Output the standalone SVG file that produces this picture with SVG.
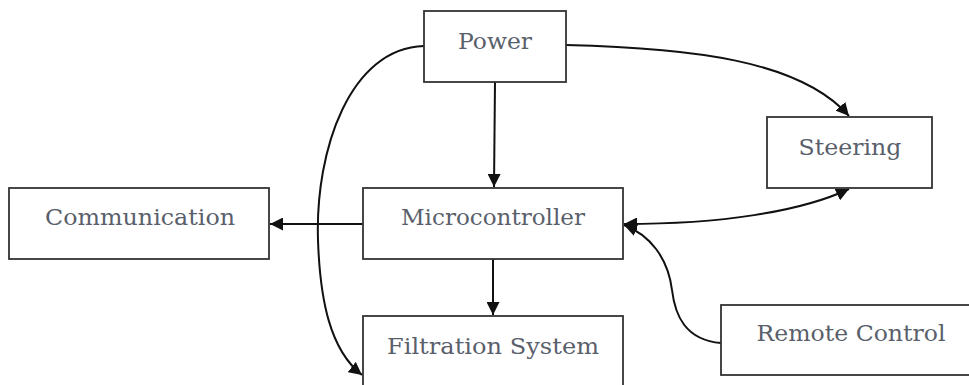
<svg xmlns="http://www.w3.org/2000/svg" width="969" height="385" viewBox="0 0 969 385">
<style>
.box{fill:#fff;stroke:#333;stroke-width:1.8}
.lbl{font-family:"DejaVu Serif","Liberation Serif",serif;font-size:22px;fill:#5a5f6c;text-anchor:middle}
.edge{fill:none;stroke:#111;stroke-width:2}
</style>
<defs>
<marker id="a" viewBox="0 0 12 12" refX="12" refY="6" markerWidth="13" markerHeight="13" markerUnits="userSpaceOnUse" orient="auto-start-reverse">
<path d="M0,0 L12,6 L0,12 z" fill="#111"/>
</marker>
</defs>
<g id="connectors">
<path class="edge" d="M495,82 L494,187" marker-end="url(#a)"/>
<path class="edge" d="M493,259 L493,315" marker-end="url(#a)"/>
<path class="edge" d="M363,224 L270,224" marker-end="url(#a)"/>
<path class="edge" d="M424,46 C350,48 315,150 318,240 C320,300 330,350 362,375" marker-end="url(#a)"/>
<path class="edge" d="M566,45 C690,48 800,60 849,116" marker-end="url(#a)"/>
<path class="edge" d="M624,224 C720,224 800,212 849,189" marker-start="url(#a)" marker-end="url(#a)"/>
<path class="edge" d="M721,343 C685,340 675,315 672,290 C668,258 650,235 624,225" marker-end="url(#a)"/>
</g>
<g id="power"><rect class="box" x="424" y="11" width="142" height="71"/><text class="lbl" x="495" y="49" textLength="74" lengthAdjust="spacingAndGlyphs">Power</text></g>
<g id="steering"><rect class="box" x="767" y="117" width="165" height="71"/><text class="lbl" x="850" y="155" textLength="103" lengthAdjust="spacingAndGlyphs">Steering</text></g>
<g id="communication"><rect class="box" x="9" y="188" width="260" height="71"/><text class="lbl" x="140" y="225" textLength="190" lengthAdjust="spacingAndGlyphs">Communication</text></g>
<g id="microcontroller"><rect class="box" x="363" y="188" width="260" height="71"/><text class="lbl" x="493" y="225" textLength="184" lengthAdjust="spacingAndGlyphs">Microcontroller</text></g>
<g id="filtration"><rect class="box" x="363" y="316" width="260" height="80"/><text class="lbl" x="493" y="354" textLength="212" lengthAdjust="spacingAndGlyphs">Filtration System</text></g>
<g id="remote"><rect class="box" x="721" y="305" width="260" height="70"/><text class="lbl" x="851" y="341" textLength="189" lengthAdjust="spacingAndGlyphs">Remote Control</text></g>
</svg>
